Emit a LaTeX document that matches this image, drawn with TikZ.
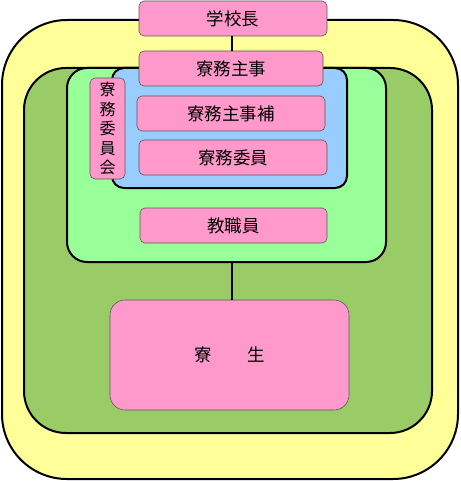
\documentclass[tikz,border=0pt]{standalone}
\usepackage{fontspec}
\newfontfamily\jpfont{Noto Sans CJK JP}
\usepackage{xcolor}
\definecolor{dormpink}{RGB}{255, 153, 204}
\definecolor{dormyellow}{RGB}{255, 255, 153}
\definecolor{dormfield}{RGB}{153, 204, 102}
\definecolor{dormlight}{RGB}{153, 255, 153}
\definecolor{dormblue}{RGB}{153, 204, 255}
\usetikzlibrary{positioning}

\begin{document}
\begin{tikzpicture}[x=1pt, y=-1pt]

  \tikzstyle{area} = [
    draw=black, line width=2pt,
    inner sep=0pt, outer sep=0pt
  ]
  \tikzstyle{rolebox} = [
    draw=black!65, line width=0.6pt, fill=dormpink,
    rounded corners=5pt, inner sep=0pt, outer sep=0pt,
    minimum height=35pt,
    font=\jpfont\fontsize{17.5}{20}\selectfont, text=black
  ]

  \useasboundingbox (0,0) rectangle (460,481);

  % nested areas
  \node[area, fill=dormyellow, rounded corners=65pt,
        minimum width=456pt, minimum height=459pt] (school) at (230,249.5) {};
  \node[area, fill=dormfield, rounded corners=42pt,
        minimum width=408pt, minimum height=365pt] (dorm) at (228,250.5) {};
  \node[area, fill=dormlight, rounded corners=20pt,
        minimum width=319pt, minimum height=194pt] (staffarea) at (226.5,165) {};
  \node[area, fill=dormblue, rounded corners=12pt,
        minimum width=235pt, minimum height=120pt] (office) at (229.5,128) {};

  % roles
  \node[rolebox, minimum width=188pt] (head) at (233,18.5) {学校長};
  \node[rolebox, minimum width=184pt] (chief) at (231,68.5) {寮務主事};
  \node[rolebox, minimum width=188pt] (assist) at (231,113.5) {寮務主事補};
  \node[rolebox, minimum width=188pt] (member) at (233,157.5) {寮務委員};
  \node[rolebox, minimum width=187pt] (staff) at (233.5,225.5) {教職員};
  \node[rolebox, minimum width=35pt, minimum height=101pt, align=center,
        font=\jpfont\fontsize{16}{19.5}\selectfont] (board) at (107.5,128.5)
    {寮\\務\\委\\員\\会};
  \node[rolebox, rounded corners=15pt, minimum width=239pt,
        minimum height=110pt] (students) at (229.5,355) {寮\hspace{2em}生};

  \draw[line width=2pt] (232,0 |- head.south) -- (232,0 |- chief.north);
  \draw[line width=2pt] (232,0 |- staffarea.south) -- (232,0 |- students.north);

\end{tikzpicture}
\end{document}
